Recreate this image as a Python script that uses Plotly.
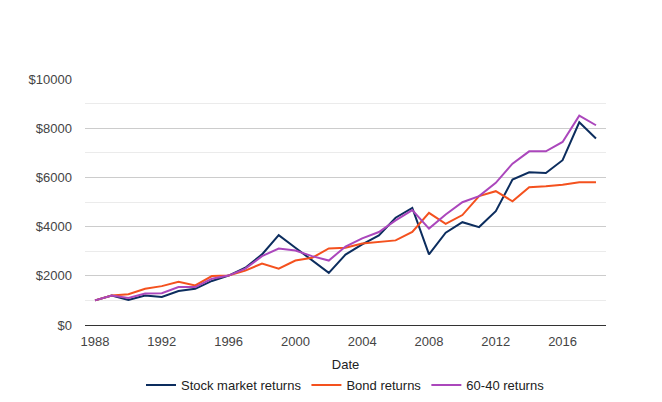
import plotly.graph_objects as go

# Годы и значения серий
years = list(range(1988, 2019))

stock = [1000, 1200, 1020, 1200, 1140, 1380, 1470, 1790, 2010, 2330,
         2870, 3650, 3140, 2620, 2120, 2860, 3280, 3640, 4360, 4760,
         2870, 3750, 4180, 3980, 4630, 5910, 6210, 6180, 6700, 8240,
         7580]

bonds = [1000, 1200, 1250, 1470, 1580, 1760, 1610, 1990, 2010, 2210,
         2500, 2290, 2620, 2730, 3110, 3140, 3310, 3380, 3440, 3780,
         4560, 4110, 4470, 5240, 5440, 5030, 5600, 5640, 5700, 5800,
         5800]

mix_60_40 = [1000, 1200, 1100, 1280, 1290, 1540, 1540, 1880, 2010, 2290,
             2800, 3110, 3030, 2800, 2620, 3190, 3520, 3780, 4250, 4670,
             3920, 4490, 4990, 5240, 5780, 6560, 7060, 7060, 7440, 8510,
             8120]

series = [
    ('Stock market returns', stock, '#0c2d5e'),
    ('Bond returns', bonds, '#f4511e'),
    ('60-40 returns', mix_60_40, '#ab47bc'),
]

y_ticks = [0, 2000, 4000, 6000, 8000, 10000]
y_labels = ['$' + str(v) for v in y_ticks]
x_ticks = [1988, 1992, 1996, 2000, 2004, 2008, 2012, 2016]

fig = go.Figure()

for name, values, color in series:
    fig.add_trace(go.Scatter(x=years, y=values, mode='lines', name=name,
                             line=dict(color=color, width=2)))

# страница сдвигает график на 8px (отступ body), поэтому поля уменьшены
fig.update_layout(
    width=654, height=394,
    margin=dict(l=77, r=56, t=71, b=77, autoexpand=False),
    paper_bgcolor='white', plot_bgcolor='white',
    font=dict(family='Liberation Sans, Arial', size=13, color='#444444'),
    xaxis=dict(
        range=[1987.4, 2018.6],
        tickvals=x_ticks,
        showgrid=False, zeroline=False,
        showline=True, linecolor='#333333', linewidth=1,
        ticks='', ticklabelstandoff=4,
        title=dict(text='Date', font=dict(size=13, color='#222222'), standoff=12),
    ),
    yaxis=dict(
        range=[0, 10000],
        tickvals=y_ticks, ticktext=y_labels,
        showgrid=True, gridcolor='#cccccc', gridwidth=1,
        minor=dict(dtick=1000, showgrid=True, gridcolor='#ebebeb', gridwidth=1),
        zeroline=False, ticks='', ticklabelstandoff=12,
    ),
    legend=dict(
        orientation='h', x=0.5, xanchor='center', y=-0.244, yanchor='middle',
        font=dict(size=13, color='#222222'), itemwidth=30,
    ),
)

fig.write_html("out.html")
